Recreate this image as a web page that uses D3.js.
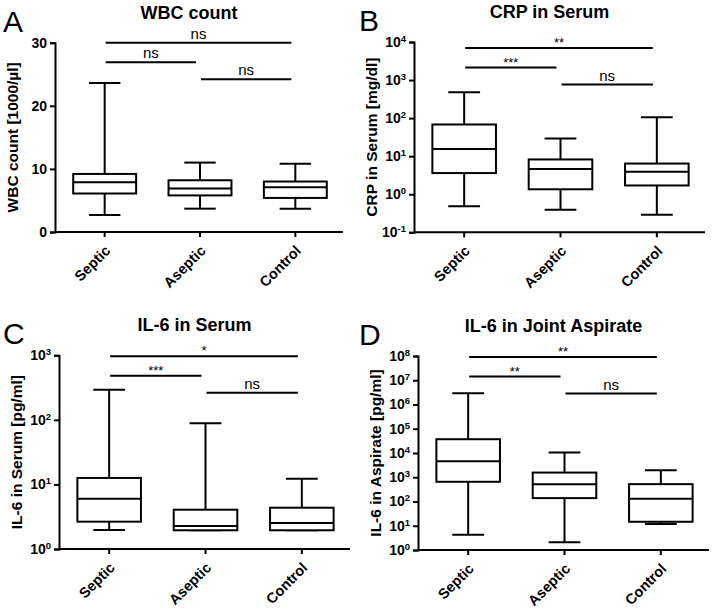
<!DOCTYPE html>
<html>
<head>
<meta charset="utf-8">
<script src="https://cdn.jsdelivr.net/npm/d3@7"></script>
<style>
  body { margin: 0; background: #fff; }
  svg { font-family: "Liberation Sans", Arial, sans-serif; }
</style>
</head>
<body>
<svg id="vis-svg" width="714" height="613"></svg>
<script>
// groups on the x axis
var groups = ["Septic", "Aseptic", "Control"];

// box stats per group: [min, q1, median, q3, max]
var wbcStats = [[2.7, 6.1, 7.9, 9.2, 23.6], [3.7, 5.8, 6.9, 8.2, 11.0], [3.7, 5.4, 7.1, 8.0, 10.8]];
var crpStats = [[0.48, 3.6, 15.5, 68, 480], [0.39, 1.35, 4.6, 8.2, 29], [0.29, 1.7, 3.9, 6.4, 106]];
var il6SerumStats = [[1.97, 2.65, 6.0, 12.6, 292], [1.95, 1.95, 2.27, 4.06, 89], [1.95, 1.95, 2.53, 4.36, 12.3]];
var il6AspStats = [[4.3, 650, 4600, 37000, 2.9e6], [2.1, 138, 520, 1560, 10400], [11.7, 14.6, 129, 520, 1950]];

// significance labels: [Septic-Control, Septic-Aseptic, Aseptic-Control]
var wbcSig = ["ns", "ns", "ns"];
var crpSig = ["**", "***", "ns"];
var il6SerumSig = ["*", "***", "ns"];
var il6AspSig = ["**", "**", "ns"];

// y tick values
var wbcTicks = [0, 10, 20, 30];
var crpTicks = [-1, 0, 1, 2, 3, 4];
var il6SerumTicks = [0, 1, 2, 3];
var il6AspTicks = [0, 1, 2, 3, 4, 5, 6, 7, 8];

var panels = [
  {letter: "A", title: "WBC count", ylab: "WBC count [1000/µl]", stats: wbcStats, sig: wbcSig,
   log: false, ticks: wbcTicks, left: 55, right: 343, top: 42.7, bottom: 232, sigTop: 0},
  {letter: "B", title: "CRP in Serum", ylab: "CRP in Serum [mg/dl]", stats: crpStats, sig: crpSig,
   log: true, ticks: crpTicks, left: 414, right: 705, top: 42, bottom: 232.3, sigTop: 6},
  {letter: "C", title: "IL-6 in Serum", ylab: "IL-6 in Serum [pg/ml]", stats: il6SerumStats, sig: il6SerumSig,
   log: true, ticks: il6SerumTicks, left: 59, right: 350, top: 355.3, bottom: 549, sigTop: 1},
  {letter: "D", title: "IL-6 in Joint Aspirate", ylab: "IL-6 in Aspirate [pg/ml]", stats: il6AspStats, sig: il6AspSig,
   log: true, ticks: il6AspTicks, left: 418, right: 709, top: 356, bottom: 550, sigTop: 1}
];

var svg = d3.select('#vis-svg');

function drawPanel(p) {
  var g = svg.append('g');

  var xScale = d3.scaleBand()
    .domain(groups)
    .range([p.left + 2, p.right]);

  var yScale;
  if (p.log) {
    yScale = d3.scaleLog()
      .domain([Math.pow(10, p.ticks[0]), Math.pow(10, p.ticks[p.ticks.length - 1])])
      .range([p.bottom, p.top]);
  } else {
    yScale = d3.scaleLinear()
      .domain([p.ticks[0], p.ticks[p.ticks.length - 1]])
      .range([p.bottom, p.top]);
  }

  // axes
  var yAxis = d3.axisLeft(yScale)
    .tickSizeOuter(0)
    .tickSize(5)
    .tickPadding(3);
  if (p.log) {
    yAxis.tickValues(p.ticks.map(function(e){ return Math.pow(10, e); })).tickFormat(function(){ return ""; });
  } else {
    yAxis.tickValues(p.ticks);
  }

  var yg = g.append('g')
    .attr('transform', `translate(${p.left},0)`)
    .call(yAxis);

  if (p.log) {
    yg.selectAll('.tick text').each(function(d) {
      var t = d3.select(this);
      t.append('tspan').text('10');
      t.append('tspan')
        .attr('dy', '-0.55em')
        .attr('font-size', '9.5px')
        .text(Math.round(Math.log10(d)));
    });
  }

  var xg = g.append('g')
    .attr('transform', `translate(0,${p.bottom})`)
    .call(d3.axisBottom(xScale).tickSizeOuter(0).tickSize(5));
  xg.select('.domain').attr('d', `M${p.left},0H${p.right}`);
  xg.selectAll('.tick text')
    .attr('text-anchor', 'end')
    .attr('transform', 'translate(3,16) rotate(-45)')
    .attr('dy', '0.35em')
    .attr('x', 0).attr('y', 0);

  g.selectAll('.domain, .tick line')
    .attr('stroke', '#000')
    .attr('stroke-width', 2);
  g.selectAll('.tick text')
    .attr('fill', '#000')
    .attr('font-size', '14px')
    .attr('font-weight', 'bold');
  xg.selectAll('.tick text').attr('font-size', '14.5px');
  g.selectAll('text').attr('font-family', '"Liberation Sans", Arial, sans-serif');

  // boxes
  var bw = xScale.bandwidth() * 0.66;
  var boxes = g.selectAll('.box')
    .data(p.stats)
    .enter()
    .append('g')
    .attr('class', 'box');

  boxes.each(function(d, i) {
    var b = d3.select(this);
    var cx = xScale(groups[i]) + xScale.bandwidth() / 2;
    // whiskers
    b.append('line')
      .attr('x1', cx).attr('x2', cx)
      .attr('y1', yScale(d[0])).attr('y2', yScale(d[4]));
    b.append('line')
      .attr('x1', cx - bw / 4).attr('x2', cx + bw / 4)
      .attr('y1', yScale(d[4])).attr('y2', yScale(d[4]));
    b.append('line')
      .attr('x1', cx - bw / 4).attr('x2', cx + bw / 4)
      .attr('y1', yScale(d[0])).attr('y2', yScale(d[0]));
    b.append('rect')
      .attr('x', cx - bw / 2)
      .attr('y', yScale(d[3]))
      .attr('width', bw)
      .attr('height', yScale(d[1]) - yScale(d[3]))
      .attr('fill', '#fff');
    b.append('line')
      .attr('x1', cx - bw / 2).attr('x2', cx + bw / 2)
      .attr('y1', yScale(d[2])).attr('y2', yScale(d[2]));
  });
  boxes.selectAll('line, rect')
    .attr('stroke', '#000')
    .attr('stroke-width', 2);

  // significance bars
  var c = groups.map(function(k){ return xScale(k) + xScale.bandwidth() / 2; });
  var pairs = [[0, 2, 0], [0, 1, 19.5], [1, 2, 36.5]];
  pairs.forEach(function(pr, i) {
    var y = p.top + p.sigTop + pr[2];
    var x1 = c[pr[0]] + 1, x2 = c[pr[1]] - 4;
    g.append('line')
      .attr('x1', x1).attr('x2', x2)
      .attr('y1', y).attr('y2', y)
      .attr('stroke', '#000')
      .attr('stroke-width', 2);
    var isStar = p.sig[i].indexOf('*') >= 0;
    g.append('text')
      .attr('x', (x1 + x2) / 2)
      .attr('y', isStar ? y - 1 : y - 4)
      .attr('text-anchor', 'middle')
      .attr('font-size', isStar ? '13px' : '15px')
      .text(p.sig[i]);
  });

  // titles
  var mid = (p.left + p.right) / 2;
  g.append('text')
    .attr('x', mid - 10)
    .attr('y', p.top - 24)
    .attr('text-anchor', 'middle')
    .attr('font-size', '18px')
    .attr('font-weight', 'bold')
    .text(p.title);

  g.append('text')
    .attr('transform', `translate(${p.left - 37},${(p.top + p.bottom) / 2}) rotate(-90)`)
    .attr('text-anchor', 'middle')
    .attr('font-size', '15.5px')
    .attr('font-weight', 'bold')
    .text(p.ylab);

  g.append('text')
    .attr('x', p.left < 200 ? 3 : 359)
    .attr('y', p.top - 11)
    .attr('font-size', '30px')
    .text(p.letter);
}

panels.forEach(drawPanel);
</script>
</body>
</html>
